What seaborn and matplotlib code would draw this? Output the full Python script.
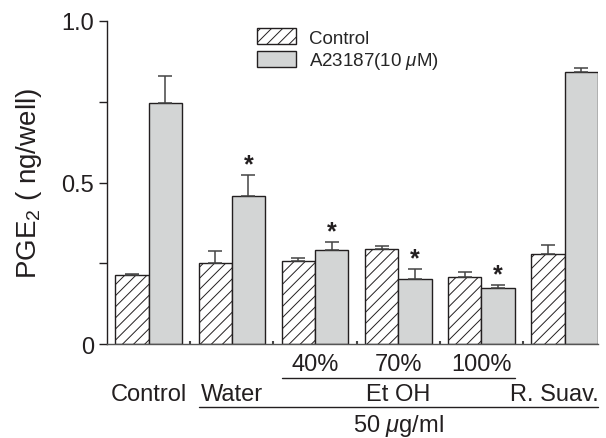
import pandas as pd
import matplotlib
matplotlib.use("Agg")
import matplotlib.pyplot as plt
from matplotlib.patches import Patch
import seaborn as sns

# Data
groups = ["Control", "Water", "40%", "70%", "100%", "R. Suav."]
control_mean = [0.214, 0.251, 0.258, 0.294, 0.208, 0.278]
control_err = [0.004, 0.038, 0.009, 0.010, 0.015, 0.029]
a23187_mean = [0.746, 0.459, 0.291, 0.201, 0.175, 0.842]
a23187_err = [0.083, 0.065, 0.024, 0.030, 0.009, 0.013]
significant = [False, True, True, True, True, False]
series = ["Control", "A23187(10 $\\mu$M)"]

df = pd.DataFrame({
    "group": groups * 2,
    "treatment": [series[0]] * len(groups) + [series[1]] * len(groups),
    "value": control_mean + a23187_mean,
})

sns.set_style("white")
plt.rcParams["font.family"] = ["Liberation Sans", "DejaVu Sans"]
plt.rcParams["mathtext.fontset"] = "custom"
plt.rcParams["mathtext.rm"] = "Liberation Sans"
plt.rcParams["mathtext.it"] = "Liberation Sans:italic"
plt.rcParams["hatch.linewidth"] = 0.7
plt.rcParams["hatch.color"] = "#231f20"

edge = "#231f20"
grey = "#d3d5d5"

fig = plt.figure(figsize=(6.06, 4.39), dpi=100)
ax = fig.add_axes([0.1766, 0.214, 0.8102, 0.736])

sns.barplot(data=df, x="group", y="value", hue="treatment", order=groups,
            hue_order=series, palette=["white", grey], width=0.8,
            edgecolor=edge, linewidth=1.0, errorbar=None, legend=False, ax=ax)

for bar in ax.containers[0]:
    bar.set_hatch("///")

# error bars (upper side only) and significance stars
for cont, errs in zip(ax.containers, [control_err, a23187_err]):
    for bar, err in zip(cont, errs):
        xc = bar.get_x() + bar.get_width() / 2
        top = bar.get_height()
        ax.errorbar(xc, top, yerr=[[0], [err]], fmt="none", ecolor="#444444",
                    elinewidth=1.1, capsize=5, capthick=1.1, zorder=3)

for bar, err, sig in zip(ax.containers[1], a23187_err, significant):
    if sig:
        xc = bar.get_x() + bar.get_width() / 2
        ax.annotate("*", (xc, bar.get_height() + err), xytext=(0, -1),
                    textcoords="offset points", ha="center", va="bottom",
                    fontsize=18, fontweight="bold", color=edge)

ax.set_ylim(0, 1.0)
ax.set_xlim(-0.5, 5.4)
ax.set_yticks([0, 0.5, 1.0])
ax.set_yticklabels(["0", "0.5", "1.0"])
ax.set_yticks([0.25, 0.75], minor=True)
ax.tick_params(axis="y", which="both", direction="out", length=6, width=1,
               color=edge, labelsize=17, labelcolor=edge, left=True)
ax.set_xticks([0.5, 1.5, 2.5, 3.5, 4.5])
ax.set_xticklabels([])
ax.tick_params(axis="x", direction="in", length=2, width=1.5, color="#444444",
               bottom=True)
ax.set_xlabel("")
ax.set_ylabel("PGE$_2$ ( ng/well)", fontsize=20, color=edge, labelpad=12)

for s in ["top", "right"]:
    ax.spines[s].set_visible(False)
ax.spines["left"].set_color(edge)
ax.spines["left"].set_linewidth(1.0)
ax.spines["bottom"].set_color("#555555")
ax.spines["bottom"].set_linewidth(1.0)

# bottom group labels
tr = ax.get_xaxis_transform()
for x, lab in zip([2, 3, 4], groups[2:5]):
    ax.text(x, -0.062, lab, transform=tr, ha="center", va="center",
            fontsize=17, color=edge)
ax.plot([1.6, 4.4], [-0.105, -0.105], transform=tr, color=edge, lw=1.0,
        clip_on=False)
for x, lab in [(0, "Control"), (1, "Water"), (3, "Et OH"), (4.88, "R. Suav.")]:
    ax.text(x, -0.155, lab, transform=tr, ha="center", va="center",
            fontsize=17, color=edge)
ax.plot([0.6, 5.4], [-0.195, -0.195], transform=tr, color=edge, lw=1.0,
        clip_on=False)
ax.text(3, -0.25, "50 $\\mu$g/ml", transform=tr, ha="center", va="center",
        fontsize=17, color=edge)

handles = [Patch(facecolor="white", edgecolor=edge, hatch="///", lw=1.0),
           Patch(facecolor=grey, edgecolor=edge, lw=1.0)]
ax.legend(handles, series, loc="upper left", bbox_to_anchor=(0.29, 1.0),
          frameon=False, fontsize=13.5, handlelength=2.1, handleheight=0.9,
          handletextpad=0.7, labelspacing=0.2, borderaxespad=0)

fig.savefig("out.png", dpi=100)
